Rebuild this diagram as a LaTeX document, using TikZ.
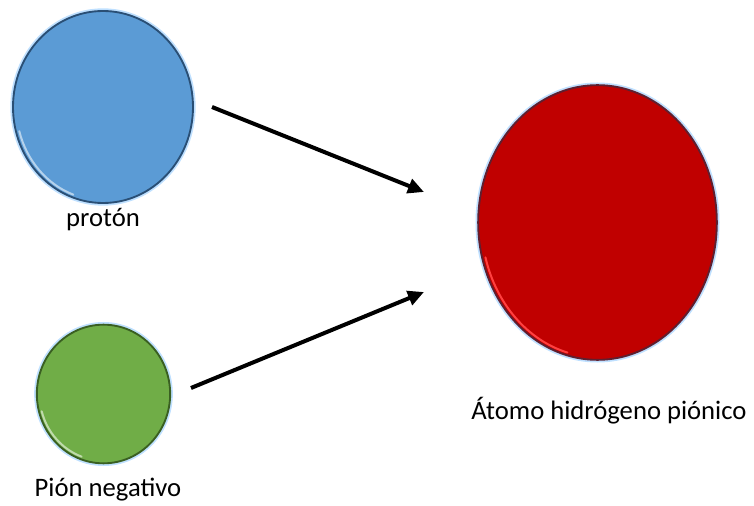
\documentclass[tikz,border=0pt]{standalone}
\usepackage{fontspec}
\setmainfont{Carlito}
\usetikzlibrary{shapes.geometric,arrows.meta}
\definecolor{pblue}{HTML}{5B9BD5}
\definecolor{pblueD}{HTML}{2A4F75}
\definecolor{pgreen}{HTML}{70AD47}
\definecolor{pgreenD}{HTML}{3A5F22}
\definecolor{pred}{HTML}{C00000}
\definecolor{predD}{HTML}{5E2030}
\definecolor{glow}{HTML}{BFE0FF}
\tikzset{
  ball/.style={ellipse, inner sep=0pt, line width=1.4pt,
    preaction={draw=glow, line width=4pt}},
  lbl/.style={font=\fontsize{20}{24}\selectfont, text=black, inner sep=0pt},
  hl/.style={line width=1.5pt, line cap=round},
  bigarrow/.style={line width=3pt, -{Triangle[length=12pt,width=11pt]}}
}
\begin{document}
\begin{tikzpicture}[x=0.75pt,y=-0.75pt]
\useasboundingbox (0,0) rectangle (754,506);
\node[ball, fill=pblue, draw=pblueD, minimum width=135pt, minimum height=144pt] (p) at (103,107) {};
\node[ball, fill=pgreen, draw=pgreenD, minimum width=100pt, minimum height=104pt] (g) at (103.5,394) {};
\node[ball, fill=pred, draw=predD, minimum width=179pt, minimum height=206pt] (r) at (597.5,222.5) {};
% highlights
\draw[hl, white!55!pblue] (p.center) ++(195:65pt and 70pt) arc[start angle=195, end angle=250, x radius=65pt, y radius=70pt];
\draw[hl, white!55!pgreen] (g.center) ++(195:48pt and 50pt) arc[start angle=195, end angle=250, x radius=48pt, y radius=50pt];
\draw[hl, red!75!white] (r.center) ++(195:87pt and 101pt) arc[start angle=195, end angle=255, x radius=87pt, y radius=101pt];
\node[lbl] (tp) at (103,220) {protón};
\node[lbl] (tg) at (108,490) {Pión negativo};
\node[lbl] (tr) at (609,411) {Átomo hidrógeno piónico};
\coordinate (a1s) at (212,107);
\coordinate (a1e) at (424,192);
\coordinate (a2s) at (191,388);
\coordinate (a2e) at (424,292);
\draw[bigarrow] (a1s) -- (a1e);
\draw[bigarrow] (a2s) -- (a2e);
\end{tikzpicture}
\end{document}
